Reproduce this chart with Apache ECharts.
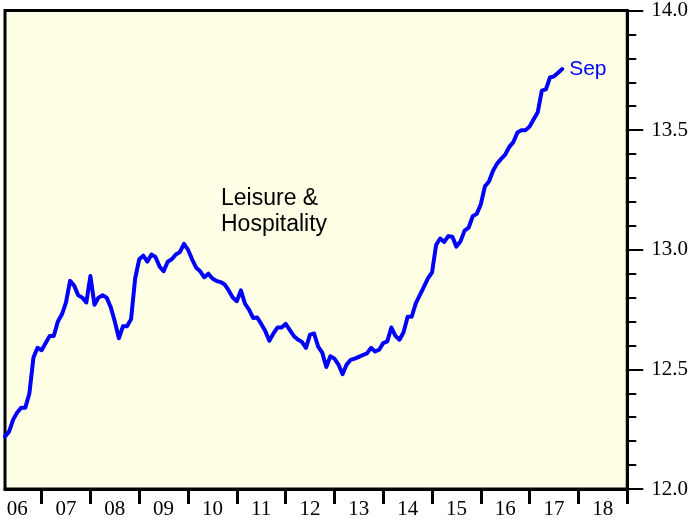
<!DOCTYPE html>
<html>
<head>
<meta charset="utf-8">
<script src="https://cdn.jsdelivr.net/npm/echarts@6/dist/echarts.min.js"></script>
<style>
  html, body { margin: 0; padding: 0; background: #fff; }
  #main { width: 691px; height: 523px; }
</style>
</head>
<body>
<div id="main"></div>
<script>
// monthly series, first point Apr 2006, last point Sep 2017 (millions)
var startYear = 2006;
var startMonth = 4;
var leisure = [
  12.22, 12.24, 12.29, 12.32, 12.34, 12.34, 12.40, 12.55, 12.59, 12.58,
  12.61, 12.64, 12.64, 12.70, 12.73, 12.78, 12.87, 12.85, 12.81, 12.80,
  12.78, 12.89, 12.77, 12.80, 12.81, 12.80, 12.76, 12.70, 12.63, 12.68,
  12.68, 12.71, 12.88, 12.96, 12.975, 12.95, 12.98, 12.97, 12.93, 12.91,
  12.95, 12.96, 12.98, 12.99, 13.025, 13.00, 12.96, 12.925, 12.91, 12.885,
  12.90, 12.88, 12.87, 12.865, 12.855, 12.83, 12.80, 12.785, 12.83, 12.775,
  12.75, 12.715, 12.717, 12.69, 12.66, 12.62, 12.65, 12.675, 12.675, 12.69,
  12.665, 12.64, 12.625, 12.615, 12.59, 12.645, 12.65, 12.595, 12.57, 12.51,
  12.555, 12.545, 12.52, 12.48, 12.52, 12.54, 12.545, 12.552, 12.56, 12.567,
  12.59, 12.575, 12.582, 12.61, 12.617, 12.675, 12.64, 12.624, 12.655, 12.72,
  12.72, 12.776, 12.81, 12.845, 12.88, 12.905, 13.02, 13.047, 13.033, 13.057,
  13.054, 13.013, 13.035, 13.08, 13.092, 13.14, 13.15, 13.19, 13.265, 13.285,
  13.33, 13.36, 13.38, 13.398, 13.43, 13.45, 13.49, 13.50, 13.50, 13.515,
  13.545, 13.575, 13.665, 13.67, 13.72, 13.725, 13.74, 13.755
];
var yearTicks = [2007, 2008, 2009, 2010, 2011, 2012, 2013, 2014, 2015, 2016, 2017, 2018, 2019];
var yearLabels = ['06', '07', '08', '09', '10', '11', '12', '13', '14', '15', '16', '17', '18'];
var yTicks = [12.0, 12.5, 13.0, 13.5, 14.0];
var endLabelText = 'Sep';
var noteText = 'Leisure &\nHospitality';

var seriesData = leisure.map(function (v, i) {
  return [startYear + (startMonth - 1 + i) / 12, v];
});
// label sits in the middle of each year
var labelPos = yearLabels.map(function (s) {
  return 2000 + Number(s) + 0.5;
});

var chart = echarts.init(document.getElementById('main'));
chart.setOption({
  animation: false,
  grid: {
    left: 5,
    right: 63,
    top: 8,
    bottom: 34,
    show: true,
    backgroundColor: '#FFFFE6',
    borderColor: '#000',
    borderWidth: 3
  },
  xAxis: {
    type: 'value',
    min: 2006.25,
    max: 2019,
    splitLine: { show: false },
    axisLine: { lineStyle: { color: '#000', width: 3 } },
    axisTick: {
      show: true,
      customValues: yearTicks,
      length: 15,
      lineStyle: { color: '#000', width: 3 }
    },
    axisLabel: {
      customValues: labelPos,
      margin: 10,
      color: '#000',
      fontFamily: 'Liberation Serif',
      fontSize: 21,
      formatter: function (v) {
        var i = labelPos.indexOf(v);
        return i >= 0 ? yearLabels[i] : '';
      }
    }
  },
  yAxis: {
    type: 'value',
    position: 'right',
    min: 12,
    max: 14,
    splitLine: { show: false },
    axisLine: { show: true, lineStyle: { color: '#000', width: 3 } },
    axisTick: {
      show: true,
      customValues: yTicks,
      length: 16,
      lineStyle: { color: '#000', width: 2 }
    },
    minorTick: {
      show: true,
      splitNumber: 5,
      length: 9,
      lineStyle: { color: '#000', width: 2 }
    },
    axisLabel: {
      customValues: yTicks,
      margin: 24,
      color: '#000',
      fontFamily: 'Liberation Serif',
      fontSize: 21,
      formatter: function (v) { return v.toFixed(1); }
    }
  },
  graphic: [{
    type: 'text',
    left: 221,
    top: 186,
    style: {
      text: noteText,
      font: '23px "Liberation Sans"',
      lineHeight: 26,
      fill: '#000'
    }
  }],
  series: [{
    type: 'line',
    data: seriesData,
    showSymbol: false,
    lineStyle: { color: '#0000FF', width: 4, join: 'round', cap: 'round' },
    endLabel: {
      show: true,
      formatter: endLabelText,
      color: '#0000FF',
      fontFamily: 'Liberation Sans',
      fontSize: 21,
      distance: 7
    }
  }]
});
</script>
</body>
</html>
